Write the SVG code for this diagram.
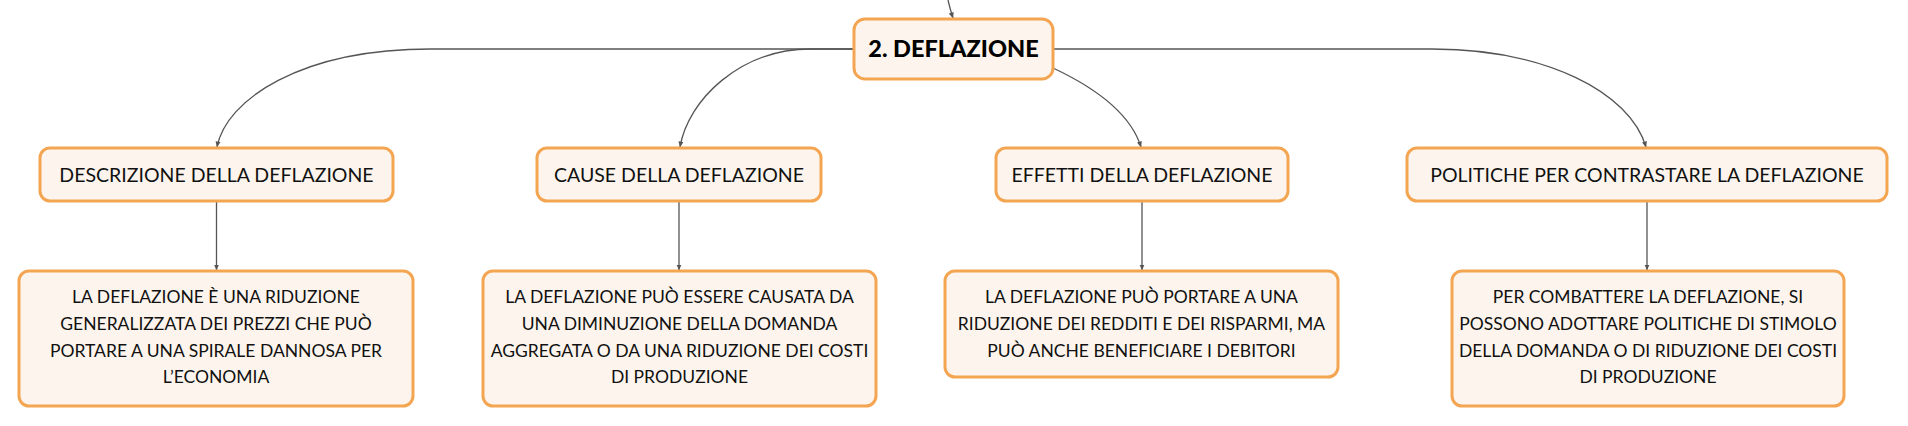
<svg xmlns="http://www.w3.org/2000/svg" width="1908" height="426" viewBox="0 0 1908 426">
<defs>
<style>
.box{fill:#fdf5ed;stroke:#f4a552;stroke-width:3}
.t{font-family:Lato,"Noto Sans",sans-serif;fill:#111;text-anchor:middle}
.title{font-size:23.5px;font-weight:900;fill:#000}
.sub{font-size:19.5px}
.body{font-size:17.5px}
.c{fill:none;stroke:#555;stroke-width:1.3}
</style>
<marker id="ah" viewBox="0 0 6 6" refX="5.5" refY="3" markerWidth="6" markerHeight="6" markerUnits="userSpaceOnUse" orient="auto">
<path d="M0,0.5 L6,3 L0,5.5 Z" fill="#555"/>
</marker>
</defs>
<rect width="1908" height="426" fill="#ffffff"/>
<g id="connectors">
<path class="c" d="M948,0 Q950,9 953,18" marker-end="url(#ah)"/>
<path class="c" d="M854,49 L431,49 C300,49 226,100 217,147" marker-end="url(#ah)"/>
<path class="c" d="M854,49 L811,49 C740,49 688,100 680,147" marker-end="url(#ah)"/>
<path class="c" d="M1053,68 C1100,90 1131,115 1141,147" marker-end="url(#ah)"/>
<path class="c" d="M1053,49 L1432,49 C1545,49 1630,92 1646,147" marker-end="url(#ah)"/>
<path class="c" d="M216.5,201 L216.5,270" marker-end="url(#ah)"/>
<path class="c" d="M679,201 L679,270" marker-end="url(#ah)"/>
<path class="c" d="M1142,201 L1142,270" marker-end="url(#ah)"/>
<path class="c" d="M1647,201 L1647,270" marker-end="url(#ah)"/>
</g>
<g id="n0">
<rect class="box" x="854" y="19" width="199" height="60" rx="11"/>
<text class="t title" x="953.5" y="57">2. DEFLAZIONE</text>
</g>
<g id="n1">
<rect class="box" x="40" y="148" width="353" height="53" rx="10"/>
<text class="t sub" x="216.5" y="182">DESCRIZIONE DELLA DEFLAZIONE</text>
</g>
<g id="n2">
<rect class="box" x="537" y="148" width="284" height="53" rx="10"/>
<text class="t sub" x="679" y="182">CAUSE DELLA DEFLAZIONE</text>
</g>
<g id="n3">
<rect class="box" x="996" y="148" width="292" height="53" rx="10"/>
<text class="t sub" x="1142" y="182">EFFETTI DELLA DEFLAZIONE</text>
</g>
<g id="n4">
<rect class="box" x="1407" y="148" width="480" height="53" rx="10"/>
<text class="t sub" x="1647" y="182">POLITICHE PER CONTRASTARE LA DEFLAZIONE</text>
</g>
<g id="n1b">
<rect class="box" x="19" y="271" width="394" height="135" rx="10"/>
<text class="t body" x="216" y="303">LA DEFLAZIONE È UNA RIDUZIONE</text>
<text class="t body" x="216" y="330">GENERALIZZATA DEI PREZZI CHE PUÒ</text>
<text class="t body" x="216" y="357">PORTARE A UNA SPIRALE DANNOSA PER</text>
<text class="t body" x="216" y="383">L’ECONOMIA</text>
</g>
<g id="n2b">
<rect class="box" x="483" y="271" width="393" height="135" rx="10"/>
<text class="t body" x="679.5" y="303">LA DEFLAZIONE PUÒ ESSERE CAUSATA DA</text>
<text class="t body" x="679.5" y="330">UNA DIMINUZIONE DELLA DOMANDA</text>
<text class="t body" x="679.5" y="357">AGGREGATA O DA UNA RIDUZIONE DEI COSTI</text>
<text class="t body" x="679.5" y="383">DI PRODUZIONE</text>
</g>
<g id="n3b">
<rect class="box" x="945" y="271" width="393" height="106" rx="10"/>
<text class="t body" x="1141.5" y="303">LA DEFLAZIONE PUÒ PORTARE A UNA</text>
<text class="t body" x="1141.5" y="330">RIDUZIONE DEI REDDITI E DEI RISPARMI, MA</text>
<text class="t body" x="1141.5" y="357">PUÒ ANCHE BENEFICIARE I DEBITORI</text>
</g>
<g id="n4b">
<rect class="box" x="1452" y="271" width="392" height="135" rx="10"/>
<text class="t body" x="1648" y="303">PER COMBATTERE LA DEFLAZIONE, SI</text>
<text class="t body" x="1648" y="330">POSSONO ADOTTARE POLITICHE DI STIMOLO</text>
<text class="t body" x="1648" y="357">DELLA DOMANDA O DI RIDUZIONE DEI COSTI</text>
<text class="t body" x="1648" y="383">DI PRODUZIONE</text>
</g>
</svg>
